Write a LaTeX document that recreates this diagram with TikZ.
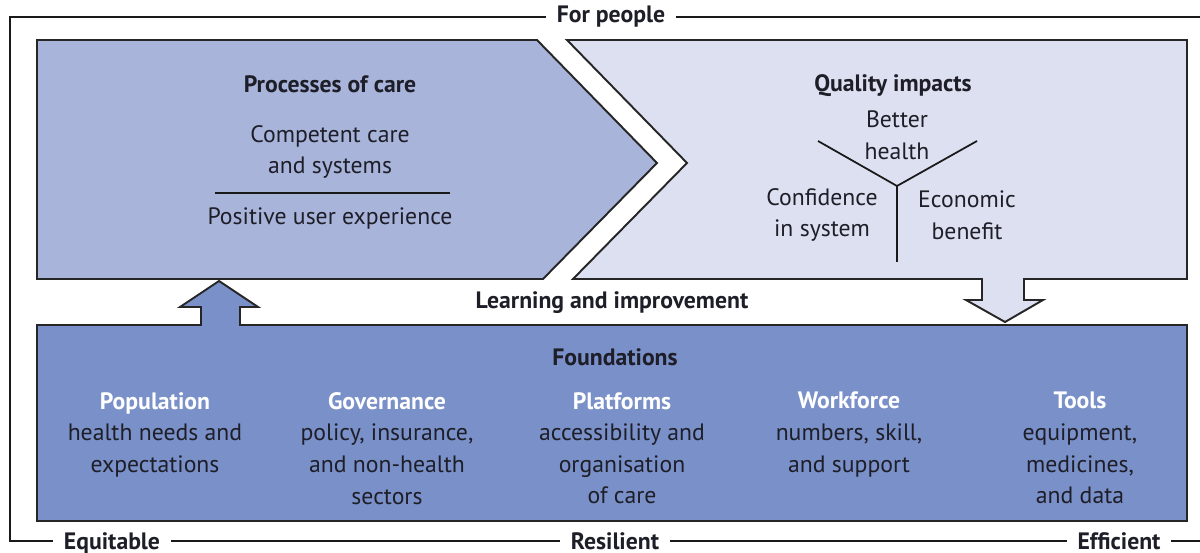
\documentclass[tikz,border=0pt]{standalone}
\usepackage{fontspec}
\setmainfont{PT Sans}

\definecolor{carefill}{HTML}{A8B4DA}
\definecolor{impactfill}{HTML}{DDE0F0}
\definecolor{basefill}{HTML}{7A90C8}
\definecolor{inkdark}{HTML}{1E1E28}

\tikzset{
    txt/.style={font=\fontsize{13.5}{18}\selectfont, text=inkdark, align=center},
    head/.style={font=\fontsize{13.5}{18}\selectfont\bfseries, text=inkdark, align=center},
    pillar/.style={txt, anchor=north},
    boxline/.style={draw=black!85, line width=1.1pt},
    rule/.style={draw=black!90, line width=1pt},
    frameline/.style={draw=black!90, line width=0.8pt},
    flabel/.style={head, fill=white, inner xsep=6pt, inner ysep=1pt},
}

\begin{document}
\begin{tikzpicture}[x=0.02cm, y=-0.02cm]
    \useasboundingbox (0,0) rectangle (1200,553);

    \draw[frameline] (1200,17) -- (10,17) -- (10,541) -- (1200,541);
    \node[flabel] (people) at (611,17) {For people};
    \node[flabel, anchor=base] (equitable) at (112,549) {Equitable};
    \node[flabel, anchor=base] (resilient) at (615,549) {Resilient};
    \node[flabel, anchor=base] (efficient) at (1119,549) {Efficient};

    \draw[boxline, fill=carefill] (37,40) -- (537,40) -- (657,163) -- (543,279) -- (37,279) -- cycle;
    \draw[boxline, fill=impactfill] (567,40) -- (1187,40) -- (1187,279) -- (1024,279) -- (1024,300)
        -- (1043,300) -- (1005,322) -- (966,300) -- (982,300) -- (982,279) -- (573,279) -- (687,163) -- cycle;
    \draw[boxline, fill=basefill] (37,325) -- (201,325) -- (201,307) -- (180,307) -- (219,281)
        -- (258,307) -- (240,307) -- (240,325) -- (1187,325) -- (1187,521) -- (37,521) -- cycle;

    \node[head] (care) at (330,84) {Processes of care};
    \node[txt] (competent) at (330,152) {Competent care\\and systems};
    \node[txt] (positive) at (330,218) {Positive user experience};
    \draw[rule] (215,193) -- (450,193);

    \node[head] (quality) at (893,86) {Quality impacts};
    \node[txt] (health) at (897,135) {Better\\health};
    \coordinate (fork) at (897,186);
    \draw[rule] (818,141) -- (fork) -- (977,141);
    \draw[rule] (fork) -- (897,262);
    \node[txt] (confidence) at (822,215) {Confidence\\in system};
    \node[txt] (economic) at (967,215) {Economic\\benefit};

    \node[head] (learning) at (612,303) {Learning and improvement};
    \node[head] (found) at (615,357) {Foundations};

    \node[pillar] (population) at (155,386) {\textcolor{white}{\bfseries Population}\\health needs and\\expectations};
    \node[pillar] (governance) at (387,386) {\textcolor{white}{\bfseries Governance}\\policy, insurance,\\and non-health\\sectors};
    \node[pillar] (platforms) at (622,386) {\textcolor{white}{\bfseries Platforms}\\accessibility and\\organisation\\of care};
    \node[pillar] (workforce) at (849,386) {\textcolor{white}{\bfseries Workforce}\\numbers, skill,\\and support};
    \node[pillar] (tools) at (1080,386) {\textcolor{white}{\bfseries Tools}\\equipment,\\medicines,\\and data};
\end{tikzpicture}
\end{document}
